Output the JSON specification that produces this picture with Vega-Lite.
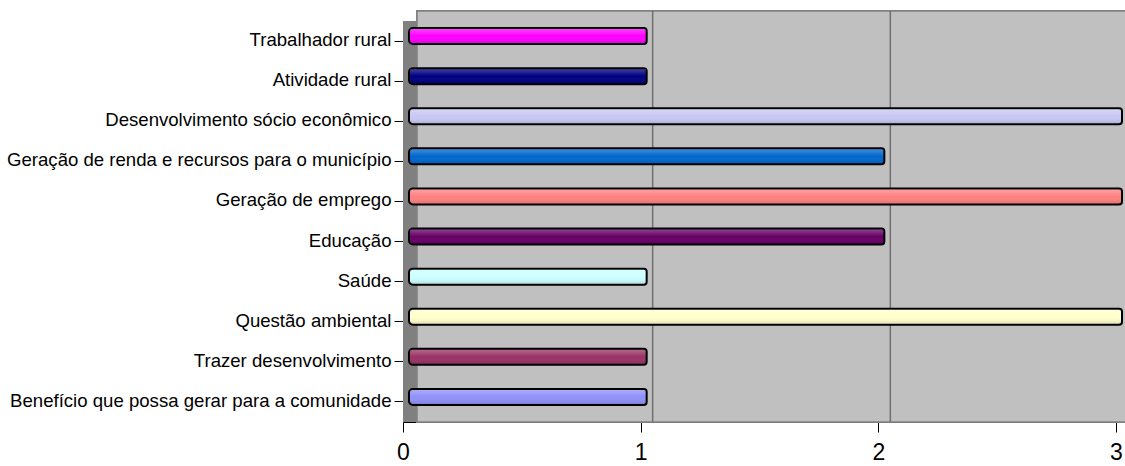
{
  "$schema": "https://vega.github.io/schema/vega-lite/v6.json",
  "autosize": "none",
  "padding": {"left": 403, "top": 21, "right": 9, "bottom": 44},
  "width": 713,
  "height": 401,
  "background": "white",
  "config": {
    "font": "Liberation Sans",
    "view": {"fill": "#C0C0C0", "stroke": null}
  },
  "data": {
    "values": [
      {"categoria": "Trabalhador rural", "valor": 1},
      {"categoria": "Atividade rural", "valor": 1},
      {"categoria": "Desenvolvimento sócio econômico\u2002\u2002", "valor": 3},
      {"categoria": "Geração de renda e recursos para o município", "valor": 2},
      {"categoria": "Geração de emprego", "valor": 3},
      {"categoria": "Educação\u2002", "valor": 2},
      {"categoria": "Saúde", "valor": 1},
      {"categoria": "Questão ambiental", "valor": 3},
      {"categoria": "Trazer desenvolvimento\u2002", "valor": 1},
      {"categoria": "Benefício que possa gerar para a comunidade", "valor": 1}
    ]
  },
  "encoding": {
    "y": {
      "field": "categoria",
      "type": "nominal",
      "sort": null,
      "scale": {"paddingInner": 0, "paddingOuter": 0},
      "axis": {
        "title": null,
        "labelFontSize": 18.6,
        "labelColor": "#000000",
        "labelPadding": 3,
        "labelLimit": 500,
        "labelOffset": -1,
        "tickSize": 9,
        "tickColor": "#000000",
        "domainColor": "#000000",
        "domainWidth": 1
      }
    }
  },
  "layer": [
    {
      "mark": {"type": "rect", "fill": "#C0C0C0", "stroke": "#808080", "strokeWidth": 1.5, "xOffset": 14, "x2Offset": 14, "yOffset": -10, "y2Offset": -10},
      "encoding": {
        "x": {"datum": 0, "type": "quantitative", "scale": {"domain": [0, 3], "nice": false}},
        "x2": {"datum": 3},
        "y": null
      }
    },
    {
      "mark": {"type": "rect", "fill": "#808080"},
      "encoding": {
        "x": {"datum": 0, "type": "quantitative"},
        "x2": {"datum": 0.058},
        "y": null
      }
    },
    {
      "data": {"values": [{"g": 1}, {"g": 2}, {"g": 3}]},
      "mark": {"type": "rule", "color": "#707070", "strokeWidth": 1.5, "xOffset": 12, "yOffset": -10, "y2Offset": -10},
      "encoding": {
        "x": {"field": "g", "type": "quantitative"},
        "y": null
      }
    },
    {
      "mark": {"type": "bar", "size": 16, "stroke": "#000000", "strokeWidth": 2, "xOffset": 6, "x2Offset": 6, "yOffset": -5, "cornerRadiusTopLeft": 4, "cornerRadiusBottomLeft": 4, "cornerRadiusTopRight": 3, "cornerRadiusBottomRight": 3},
      "encoding": {
        "x": {
          "field": "valor",
          "type": "quantitative",
          "scale": {"domain": [0, 3], "nice": false},
          "axis": {
            "title": null,
            "values": [0, 1, 2, 3],
            "format": "d",
            "grid": false,
            "labelFontSize": 23,
            "labelColor": "#000000",
            "labelPadding": 9,
            "tickSize": 10,
            "tickColor": "#000000",
            "domainColor": "#000000",
            "labelFlush": false
          }
        },
        "x2": {"datum": 0},
        "color": {
          "field": "categoria",
          "type": "nominal",
          "legend": null,
          "scale": {
            "domain": [
              "Trabalhador rural",
              "Atividade rural",
              "Desenvolvimento sócio econômico\u2002\u2002",
              "Geração de renda e recursos para o município",
              "Geração de emprego",
              "Educação\u2002",
              "Saúde",
              "Questão ambiental",
              "Trazer desenvolvimento\u2002",
              "Benefício que possa gerar para a comunidade"
            ],
            "range": ["#FF00FF", "#000080", "#C8C8F4", "#0066CC", "#FF8080", "#660066", "#CCFFFF", "#FFFFCC", "#993366", "#9090F8"]
          }
        }
      }
    },
    {
      "mark": {
        "type": "bar", "size": 14, "xOffset": 5, "x2Offset": 7, "yOffset": -5,
        "fill": {"x1": 0, "y1": 0, "x2": 0, "y2": 1, "gradient": "linear", "stops": [
          {"offset": 0, "color": "rgba(255,255,255,0.25)"},
          {"offset": 0.5, "color": "rgba(255,255,255,0)"},
          {"offset": 1, "color": "rgba(0,0,0,0.12)"}
        ]}
      },
      "encoding": {
        "x": {"field": "valor", "type": "quantitative"},
        "x2": {"datum": 0}
      }
    }
  ]
}
